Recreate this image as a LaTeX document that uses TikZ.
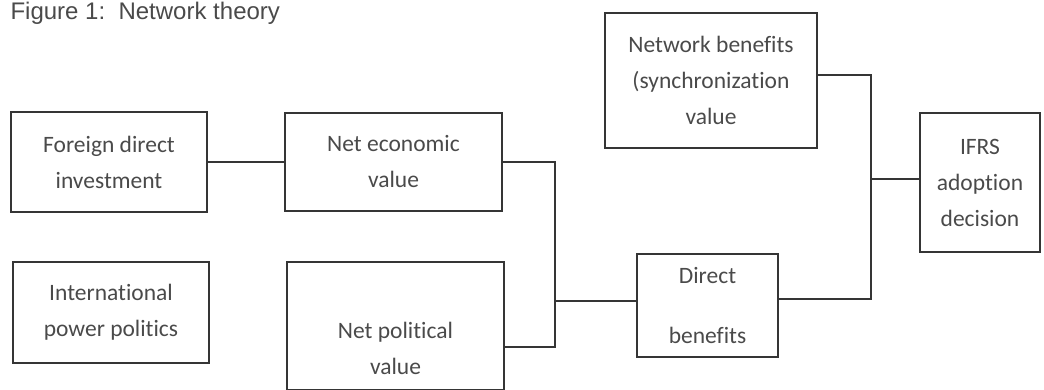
\documentclass[tikz,border=0pt]{standalone}
\usepackage{fontspec}
\setmainfont{Carlito}[Ligatures=NoCommon]
\newfontfamily\figfont{Liberation Sans}
\usetikzlibrary{calc}
\definecolor{ink}{HTML}{353535}
\definecolor{txt}{HTML}{4A4A4A}
\tikzset{box/.style={draw=ink, line width=1.5pt, text=txt, align=center, inner sep=0pt, font=\fontsize{23.5}{36}\selectfont},
 boxtext/.style={text=txt, align=center, inner sep=0pt, font=\fontsize{23.5}{36}\selectfont},
 link/.style={draw=ink, line width=1.5pt}}

\begin{document}
\begin{tikzpicture}[x=1pt,y=-1pt]
  \useasboundingbox (0,0) rectangle (1044,390);
  \clip (0,0) rectangle (1044,390);
  \node[anchor=base west, text=txt, font=\figfont\fontsize{24}{28}\selectfont] (title) at (7,20) {Figure 1:\ \ Network theory};
  % left column
  \node[box, minimum width=196pt, minimum height=100pt] (fdi) at (109,162) {Foreign direct\\investment};
  \node[box, minimum width=196pt, minimum height=101pt] (ipp) at (111,312.5) {International\\power politics};
  % values
  \node[box, minimum width=217pt, minimum height=98pt] (econ) at (393.5,162) {Net economic\\value};
  \node[box, minimum width=217pt, minimum height=128pt] (pol) at (395.5,326) {};
  \node[boxtext] (poltext) at ($(pol.center)+(0,22)$) {Net political\\value};
  % benefits
  \node[box, minimum width=141pt, minimum height=103pt] (direct) at (707.5,305.5) {Direct\\[24pt]benefits};
  \node[box, minimum width=212pt, minimum height=135pt] (net) at (711,80.5) {Network benefits\\(synchronization\\value};
  \node[box, minimum width=120pt, minimum height=139pt] (ifrs) at (980,182.5) {IFRS\\adoption\\decision};
  % junctions
  \coordinate (jl)  at (555,301);
  \coordinate (jlb) at (555,347);
  \coordinate (jr)  at (871,179);
  \coordinate (jrt) at (871,75);
  \coordinate (jrb) at (871,299);
  \draw[link] (fdi) -- (econ);
  \draw[link] (econ.east) -| (jlb) -- (jlb -| pol.east);
  \draw[link] (jl) -- (jl -| direct.west);
  \draw[link] (jrt -| net.east) -- (jrt) -- (jrb) -- (jrb -| direct.east);
  \draw[link] (jr) -- (jr -| ifrs.west);
\end{tikzpicture}
\end{document}
